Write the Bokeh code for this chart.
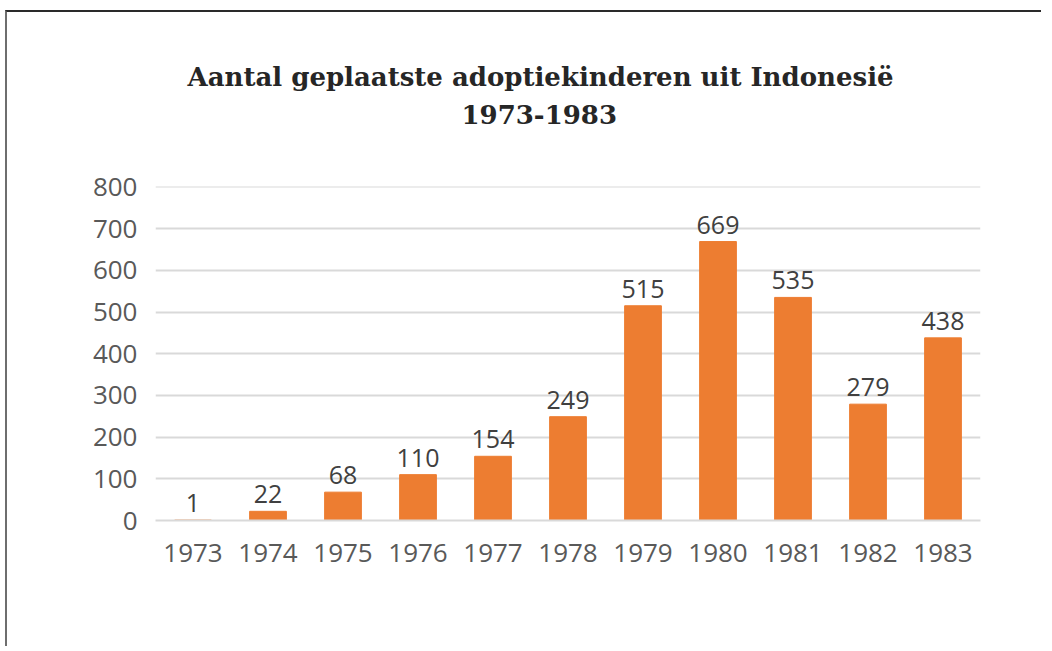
from bokeh.plotting import figure
from bokeh.models import ColumnDataSource, Title, FixedTicker
from bokeh.embed import file_html
from bokeh.resources import INLINE
from bokeh.core.properties import value

years = ["1973", "1974", "1975", "1976", "1977", "1978", "1979", "1980", "1981", "1982", "1983"]
counts = [1, 22, 68, 110, 154, 249, 515, 669, 535, 279, 438]
y_ticks = [0, 100, 200, 300, 400, 500, 600, 700, 800]
title_line1 = "Aantal geplaatste adoptiekinderen uit Indonesië"
title_line2 = "1973-1983"

source = ColumnDataSource(data=dict(years=years, counts=counts, labels=[str(c) for c in counts]))

p = figure(x_range=years, y_range=(0, 801), width=1036, height=636,
           output_backend="svg", toolbar_location=None,
           min_border_left=148, min_border_right=63, min_border_top=174, min_border_bottom=128)
p.styles = {"border-top": "2px solid #2a2a2a", "border-left": "2px solid #6e6e6e",
            "margin-top": "10px", "margin-left": "5px"}
p.outline_line_color = None
p.background_fill_color = "white"
p.border_fill_color = "white"

p.vbar(x="years", top="counts", width=0.49, source=source, color="#ED7D31")
p.text(x="years", y="counts", text="labels", source=source, text_align="center",
       text_baseline="bottom", y_offset=-8, text_font=value("Open Sans"),
       text_font_size="25px", text_color="#404040")

p.yaxis.ticker = FixedTicker(ticks=y_ticks)
p.ygrid.ticker = FixedTicker(ticks=y_ticks)
p.ygrid.grid_line_color = "#d9d9d9"
p.ygrid.grid_line_width = 2
p.xgrid.grid_line_color = None

for ax in (p.xaxis[0], p.yaxis[0]):
    ax.axis_line_color = None
    ax.major_tick_line_color = None
    ax.minor_tick_line_color = None
    ax.major_label_text_font = "Open Sans"
    ax.major_label_text_font_size = "26px"
    ax.major_label_text_color = "#595959"
p.yaxis.major_label_standoff = 12
p.xaxis.major_label_standoff = 17
p.xaxis.axis_line_color = "#d9d9d9"
p.xaxis.axis_line_width = 2

# spacer between plot area and title block
p.add_layout(Title(text=" ", standoff=55, text_font_size="1px"), "above")
p.add_layout(Title(text=title_line2, align="left", offset=306, standoff=10,
                   text_font="DejaVu Serif", text_font_style="bold",
                   text_font_size="26px", text_color="#262626"), "above")
p.add_layout(Title(text=title_line1, align="left", offset=32, standoff=12,
                   text_font="DejaVu Serif", text_font_style="bold",
                   text_font_size="26px", text_color="#262626"), "above")

open("out.html", "w").write(file_html(p, INLINE))
